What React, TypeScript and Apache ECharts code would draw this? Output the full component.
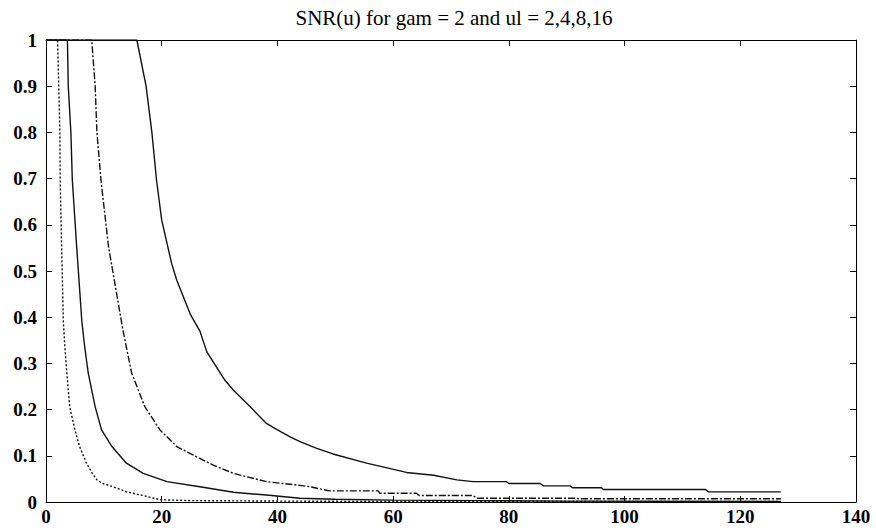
import React, { useEffect, useRef } from "react";
import * as echarts from "echarts";

const titleText = "SNR(u) for gam = 2 and ul = 2,4,8,16";
const xTicks = { min: 0, max: 140, interval: 20 };
const yTicks = { min: 0, max: 1, interval: 0.1 };

// [u, SNR]
const curveUl2: number[][] = [
  [0, 1], [2.0, 1], [2.2, 0.9], [2.4, 0.8], [2.45, 0.697], [2.7, 0.553], [3.0, 0.39],
  [3.3, 0.329], [3.6, 0.279], [4.1, 0.206], [5.0, 0.156], [5.8, 0.12], [7.0, 0.084],
  [8.0, 0.062], [8.8, 0.048], [9.8, 0.04], [11.6, 0.033], [13.9, 0.022], [16.8, 0.014],
  [19.7, 0.005], [25, 0.003], [40, 0.002], [60, 0.001], [90, 0.001], [127, 0.001],
];
const curveUl4: number[][] = [
  [0, 1], [3.7, 1], [3.85, 0.9], [4.3, 0.8], [4.55, 0.697], [5.3, 0.553], [6.2, 0.39],
  [6.7, 0.335], [7.3, 0.279], [8.5, 0.206], [9.6, 0.156], [11.4, 0.12], [13.9, 0.084],
  [16.8, 0.062], [20.9, 0.044], [26.6, 0.033], [32.4, 0.021], [38.1, 0.015], [43.9, 0.008],
  [50, 0.006], [60, 0.004], [75, 0.003], [90, 0.002], [127, 0.001],
];
const curveUl8: number[][] = [
  [0, 1], [7.9, 1], [8.5, 0.9], [8.8, 0.8], [9.5, 0.697], [10.8, 0.553], [12.8, 0.408],
  [13.3, 0.372], [14.8, 0.279], [17.1, 0.206], [19.7, 0.156], [22.6, 0.12], [26.0, 0.098],
  [28.9, 0.08], [32.4, 0.062], [38.1, 0.044], [43.9, 0.036], [45.6, 0.033], [49, 0.024],
  [57.4, 0.024], [57.7, 0.019], [64, 0.019], [64.5, 0.014], [73.8, 0.014], [74.5, 0.008],
  [91.7, 0.008], [92, 0.007], [127, 0.007],
];
const curveUl16: number[][] = [
  [0, 1], [15.7, 1], [17.3, 0.9], [18.3, 0.8], [19.1, 0.697], [20, 0.61], [21.7, 0.517],
  [22.6, 0.48], [25.0, 0.405], [26.6, 0.37], [27.8, 0.325], [30.9, 0.264], [32.4, 0.242],
  [35.3, 0.206], [38.1, 0.17], [40, 0.156], [42.2, 0.141], [44, 0.13], [46.8, 0.116],
  [49.6, 0.104], [55.4, 0.084], [62.3, 0.064], [67, 0.058], [71, 0.048], [73.8, 0.044],
  [79.6, 0.044], [80, 0.04], [85.4, 0.04], [86, 0.035], [90.6, 0.035], [91, 0.031],
  [96, 0.031], [96.3, 0.027], [114, 0.027], [114.5, 0.022], [127, 0.022],
];

const curves = [
  { name: "ul = 2", data: curveUl2, type: [2, 2] as any },
  { name: "ul = 4", data: curveUl4, type: "solid" as any },
  { name: "ul = 8", data: curveUl8, type: [7, 2, 2, 2] as any },
  { name: "ul = 16", data: curveUl16, type: "solid" as any },
];

const FONT = "'Liberation Serif', 'DejaVu Serif', serif";

export default function App() {
  const ref = useRef<HTMLDivElement>(null);
  useEffect(() => {
    if (!ref.current) return;
    const chart = echarts.init(ref.current, undefined, { renderer: "svg" });
    const axisLine = { show: true, onZero: false, lineStyle: { color: "#000", width: 1 } };
    const tick = { show: true, inside: true, length: 6, lineStyle: { color: "#000", width: 1 } };
    chart.setOption({
      animation: false,
      backgroundColor: "#fff",
      title: {
        text: titleText,
        left: 449,
        top: 2,
        textAlign: "center",
        textStyle: { fontFamily: FONT, fontSize: 21, fontWeight: "normal", color: "#000" },
      },
      grid: { left: 46, right: 20, top: 40, bottom: 29, containLabel: false },
      xAxis: [
        {
          type: "value", ...xTicks, position: "bottom",
          axisLine, axisTick: tick, splitLine: { show: false },
          axisLabel: { fontFamily: FONT, fontSize: 19, fontWeight: "bold", color: "#000", margin: 5 },
        },
        {
          type: "value", ...xTicks, position: "top",
          axisLine, axisTick: tick, splitLine: { show: false }, axisLabel: { show: false },
        },
      ],
      yAxis: [
        {
          type: "value", ...yTicks, position: "left",
          axisLine, axisTick: tick, splitLine: { show: false },
          axisLabel: { fontFamily: FONT, fontSize: 19, fontWeight: "bold", color: "#000", margin: 9 },
        },
        {
          type: "value", ...yTicks, position: "right",
          axisLine, axisTick: tick, splitLine: { show: false }, axisLabel: { show: false },
        },
      ],
      series: curves.map((c) => ({
        name: c.name,
        type: "line",
        data: c.data,
        showSymbol: false,
        symbol: "none",
        clip: true,
        lineStyle: { color: "#111", width: 1.4, type: c.type },
      })),
    });
    return () => chart.dispose();
  }, []);
  return (
    <div
      ref={ref}
      style={{ position: "fixed", left: 0, top: 0, width: 876, height: 531, background: "#fff" }}
    />
  );
}
